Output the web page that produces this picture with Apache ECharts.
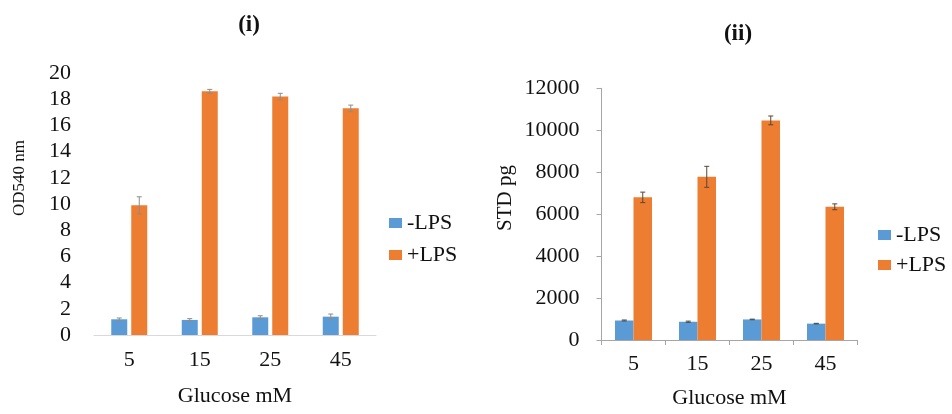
<!DOCTYPE html>
<html>
<head>
<meta charset="utf-8">
<script src="https://cdn.jsdelivr.net/npm/echarts@6/dist/echarts.min.js"></script>
<style>
  html, body { margin: 0; padding: 0; background: #fff; }
  #chart { width: 952px; height: 414px; }
</style>
</head>
<body>
<div id="chart"></div>
<script>
// Glucose concentrations (mM)
const categories = ['5', '15', '25', '45'];

// Panel (i): OD540 nm
const odMinus = [1.2, 1.15, 1.35, 1.4];
const odMinusErr = [0.1, 0.1, 0.12, 0.2];
const odPlus = [9.9, 18.6, 18.2, 17.3];
const odPlusErr = [0.65, 0.15, 0.25, 0.25];

// Panel (ii): STD pg
const stdMinus = [930, 870, 980, 780];
const stdMinusErr = [25, 30, 15, 15];
const stdPlus = [6800, 7780, 10470, 6350];
const stdPlusErr = [250, 500, 210, 140];

const seriesNames = ['-LPS', '+LPS'];
const blue = '#5b9bd5';
const orange = '#ed7d31';
const serif = '"Liberation Serif", "Times New Roman", serif';

function errData(vals, errs) {
  return vals.map((v, i) => [i, v, errs[i]]);
}

// Error bar renderer; offset shifts the whisker onto its bar within the category band
function errorBars(xIdx, yIdx, vals, errs, offset, color, cap) {
  return {
    type: 'custom',
    xAxisIndex: xIdx,
    yAxisIndex: yIdx,
    silent: true,
    z: 5,
    data: errData(vals, errs),
    renderItem: function (params, api) {
      const i = api.value(0);
      const v = api.value(1);
      const e = api.value(2);
      const hi = api.coord([i, v + e]);
      const lo = api.coord([i, v - e]);
      const x = hi[0] + offset;
      const style = { stroke: color, lineWidth: 1 };
      return {
        type: 'group',
        children: [
          { type: 'line', shape: { x1: x, y1: hi[1], x2: x, y2: lo[1] }, style: style },
          { type: 'line', shape: { x1: x - cap, y1: hi[1], x2: x + cap, y2: hi[1] }, style: style },
          { type: 'line', shape: { x1: x - cap, y1: lo[1], x2: x + cap, y2: lo[1] }, style: style }
        ]
      };
    }
  };
}

const labelStyle = { fontFamily: serif, fontSize: 22, color: '#111' };
const nameStyle = { fontFamily: serif, fontSize: 22, color: '#111' };
const legendText = { fontFamily: serif, fontSize: 22, color: '#111', lineHeight: 22 };

const chart = echarts.init(document.getElementById('chart'), null, { renderer: 'canvas' });

const leftBarW = 16, leftGapPx = 4;
const rightBarW = 18.5;

chart.setOption({
  animation: false,
  backgroundColor: '#fff',
  title: [
    { text: '(i)', left: 244, top: 9, textAlign: 'center',
      textStyle: { fontFamily: serif, fontSize: 23, fontWeight: 'bold', color: '#111' } },
    { text: '(ii)', left: 733, top: 18, textAlign: 'center',
      textStyle: { fontFamily: serif, fontSize: 23, fontWeight: 'bold', color: '#111' } }
  ],
  legend: [
    { orient: 'vertical', left: 384, top: 207, itemWidth: 13, itemHeight: 10, itemGap: 10,
      icon: 'rect', data: seriesNames, textStyle: legendText },
    { orient: 'vertical', left: 873, top: 219, itemWidth: 13, itemHeight: 10, itemGap: 8,
      icon: 'rect', data: seriesNames, textStyle: legendText }
  ],
  graphic: [
    { type: 'text', x: 20, y: 178, rotation: Math.PI / 2,
      style: { text: 'OD540 nm', font: '17px ' + serif, fill: '#111', align: 'center', verticalAlign: 'middle' } },
    { type: 'text', x: 505, y: 198, rotation: Math.PI / 2,
      style: { text: 'STD pg', font: '21px ' + serif, fill: '#111', align: 'center', verticalAlign: 'middle' } }
  ],
  grid: [
    { left: 94, top: 73, width: 282, height: 262, containLabel: false },
    { left: 601.5, top: 88.3, width: 256, height: 256.7, containLabel: false }
  ],
  xAxis: [
    { type: 'category', gridIndex: 0, data: categories,
      axisLine: { lineStyle: { color: '#d9d9d9', width: 1 } },
      axisTick: { show: false },
      axisLabel: Object.assign({ margin: 14 }, labelStyle),
      name: 'Glucose mM', nameLocation: 'middle', nameGap: 50, nameTextStyle: nameStyle },
    { type: 'category', gridIndex: 1, data: categories,
      axisLine: { lineStyle: { color: '#a6a6a6', width: 1 } },
      axisTick: { show: true, length: 5, lineStyle: { color: '#a6a6a6' } },
      axisLabel: Object.assign({ margin: 13 }, labelStyle),
      name: 'Glucose mM', nameLocation: 'middle', nameGap: 47, nameTextStyle: nameStyle }
  ],
  yAxis: [
    { type: 'value', gridIndex: 0, min: 0, max: 20, interval: 2,
      axisLine: { show: false }, axisTick: { show: false }, splitLine: { show: false },
      axisLabel: Object.assign({ margin: 23 }, labelStyle) },
    { type: 'value', gridIndex: 1, min: 0, max: 12000, interval: 2000,
      axisLine: { show: true, lineStyle: { color: '#a6a6a6', width: 1 } },
      axisTick: { show: true, length: 5, lineStyle: { color: '#a6a6a6' } },
      splitLine: { show: false },
      axisLabel: Object.assign({ margin: 22, formatter: v => String(v) }, labelStyle) }
  ],
  series: [
    { name: seriesNames[0], type: 'bar', xAxisIndex: 0, yAxisIndex: 0, data: odMinus,
      barWidth: leftBarW, barGap: (leftGapPx / leftBarW * 100) + '%', itemStyle: { color: blue } },
    { name: seriesNames[1], type: 'bar', xAxisIndex: 0, yAxisIndex: 0, data: odPlus,
      barWidth: leftBarW, itemStyle: { color: orange } },
    { name: seriesNames[0], type: 'bar', xAxisIndex: 1, yAxisIndex: 1, data: stdMinus,
      barWidth: rightBarW, barGap: '0%', itemStyle: { color: blue } },
    { name: seriesNames[1], type: 'bar', xAxisIndex: 1, yAxisIndex: 1, data: stdPlus,
      barWidth: rightBarW, itemStyle: { color: orange } },
    errorBars(0, 0, odMinus, odMinusErr, -(leftBarW + leftGapPx) / 2, '#8c8c8c', 2.5),
    errorBars(0, 0, odPlus, odPlusErr, (leftBarW + leftGapPx) / 2, '#8c8c8c', 2.5),
    errorBars(1, 1, stdMinus, stdMinusErr, -rightBarW / 2, '#4d4d4d', 2.5),
    errorBars(1, 1, stdPlus, stdPlusErr, rightBarW / 2, '#5a4636', 2.5)
  ]
});
</script>
</body>
</html>
